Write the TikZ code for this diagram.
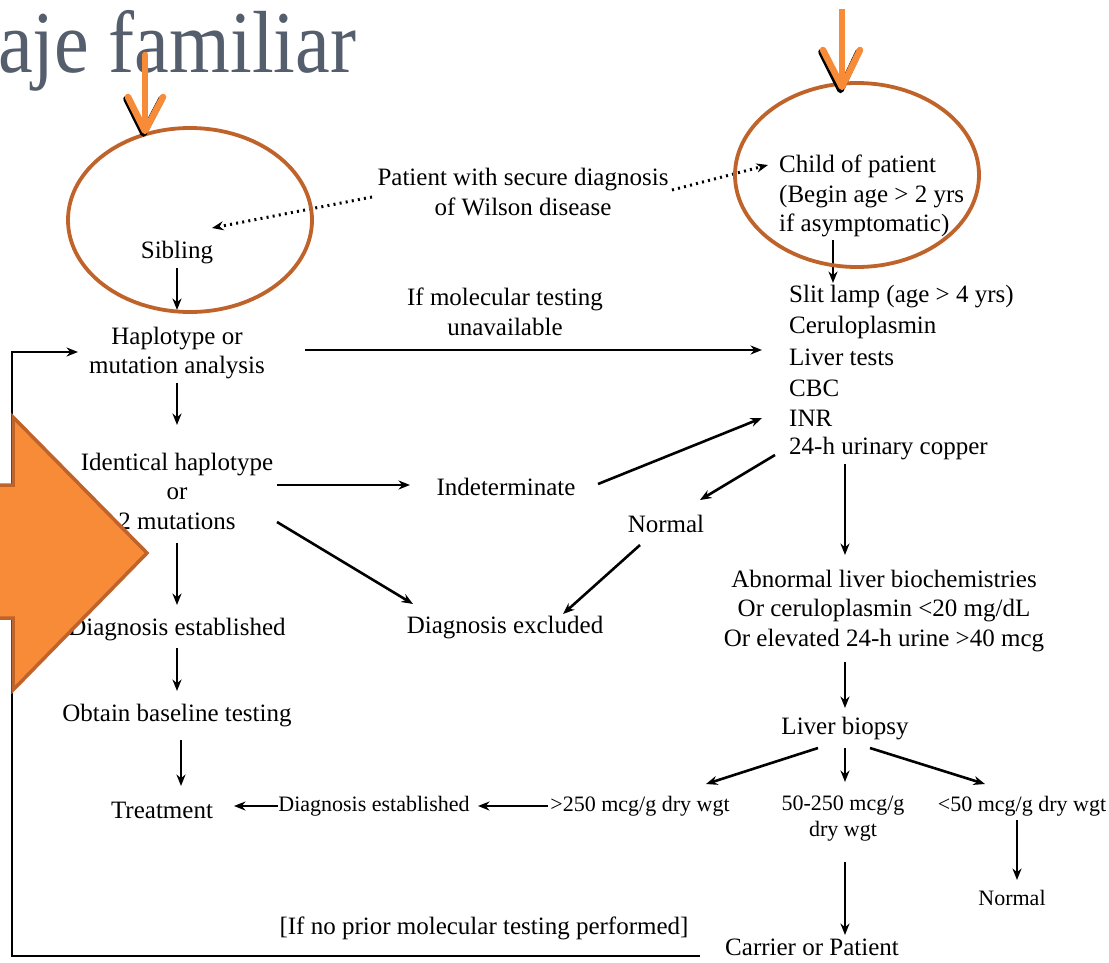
\documentclass[tikz,border=0pt]{standalone}
\usepackage{fontspec}
\setmainfont{Liberation Serif}
\usetikzlibrary{arrows.meta,calc}
\definecolor{titlegray}{HTML}{555E6C}
\definecolor{orng}{HTML}{F78B38}
\definecolor{brwn}{HTML}{C0632B}
\newcommand\fs{\fontsize{25}{29.5}\selectfont}
\newcommand\fsm{\fontsize{22}{26}\selectfont}
\begin{document}
\begin{tikzpicture}[x=1pt,y=-1pt,
  txt/.style={font=\fs, align=center, inner sep=0pt},
  sm/.style={font=\fsm, align=center, inner sep=0pt},
  lst/.style={font=\fs, anchor=west, inner sep=0pt},
  arr/.style={-{Stealth[length=11.5pt,width=9pt]}, line width=2.6pt},
  dot/.style={arr, line width=3pt, dash pattern=on 2pt off 4.2pt},
  ell/.style={draw=brwn, line width=3.8pt},
  small arrow/.style={line width=6.5pt, line cap=round, line join=round}]
\useasboundingbox (0,0) rectangle (1109,962);
\fill[white] (0,0) rectangle (1109,962);
\clip (0,0) rectangle (1109,962);

% title
\node[anchor=base west, inner sep=0, text=titlegray, font=\fontsize{84}{84}\selectfont] (title) at (-2,72) {\scalebox{0.93}[1.05]{aje familiar}};

% nodes
\node[txt] (patient) at (523,192) {Patient with secure diagnosis\\of Wilson disease};
\node[txt] (sib) at (177,253) {Sibling};
\node[txt, anchor=west, align=left] (child) at (779,196) {Child of patient\\(Begin age > 2 yrs\\if asymptomatic)};
\node[txt] (hap) at (177,353) {Haplotype or\\mutation analysis};
\node[txt] (ifmol) at (505,312) {If molecular testing\\unavailable};
\node[lst] (slit) at (789,297) {Slit lamp (age > 4 yrs)};
\node[lst] (cer) at (789,327) {Ceruloplasmin};
\node[lst] (liv) at (789,357) {Liver tests};
\node[lst] (cbc) at (789,388) {CBC};
\node[lst] (inr) at (789,418) {INR};
\node[lst] (urine) at (789,449) {24-h urinary copper};
\node[txt] (ident) at (177,491) {Identical haplotype\\or\\2 mutations};
\node[txt] (indet) at (506,487) {Indeterminate};
\node[txt] (normal) at (666,524) {Normal};
\node[txt] (dxexc) at (505,628) {Diagnosis excluded};
\node[txt] (dxest) at (177,630) {Diagnosis established};
\node[txt] (base) at (177,716) {Obtain baseline testing};
\node[txt] (treat) at (162,810) {Treatment};
\node[sm] (dx2) at (374,806) {Diagnosis established};
\node[sm] (gt250) at (640,806) {>250 mcg/g dry wgt};
\node[sm] (mid) at (843,819) {50-250 mcg/g\\dry wgt};
\node[sm] (lt50) at (1022,806) {<50 mcg/g dry wgt};
\node[sm] (norm2) at (1012,898) {Normal};
\node[txt] (abn) at (884,611) {Abnormal liver biochemistries\\Or ceruloplasmin <20 mg/dL\\Or elevated 24-h urine >40 mcg};
\node[txt] (biopsy) at (845,729) {Liver biopsy};
\node[txt] (ifno) at (484,928) {[If no prior molecular testing performed]};
\node[txt] (carrier) at (812,947) {Carrier or Patient};
\coordinate (loopc) at (12,956);

% connectors
\draw[dot] ([shift={(-151pt,-5pt)}]patient.center) -- ([shift={(35pt,25pt)}]sib.center);
\draw[dot] ([shift={(149pt,2pt)}]patient.center) -- ([shift={(-11pt,31pt)}]child.west);
\draw[arr] ([yshift=-15pt]sib.center) -- ([yshift=43pt]hap.center);
\draw[arr] ([shift={(54pt,-44pt)}]child.west) -- ([shift={(44pt,14pt)}]slit.west);
\draw[arr] ([shift={(128pt,3pt)}]hap.center) -- ([shift={(-27pt,7pt)}]liv.west);
\draw[arr] ([yshift=-30pt]hap.center) -- ([yshift=66pt]ident.center);
\draw[arr] ([shift={(100pt,6pt)}]ident.center) -- ([shift={(-96pt,2pt)}]indet.center);
\draw[arr] ([shift={(100pt,-31pt)}]ident.center) -- ([shift={(-92pt,24pt)}]dxexc.center);
\draw[arr] ([shift={(92pt,3pt)}]indet.center) -- ([shift={(-27pt,0pt)}]inr.west);
\draw[arr] ([shift={(-14pt,-6pt)}]urine.west) -- ([shift={(34pt,24pt)}]normal.center);
\draw[arr] ([shift={(-26pt,-21pt)}]normal.center) -- ([shift={(58pt,14pt)}]dxexc.center);
\draw[arr] ([yshift=-52pt]ident.center) -- ([yshift=25pt]dxest.center);
\draw[arr] ([yshift=-18pt]dxest.center) -- ([yshift=25pt]base.center);
\draw[arr] ([shift={(4pt,-24pt)}]base.center) -- ([shift={(19pt,24pt)}]treat.center);
\draw[arr] ([shift={(56pt,-15pt)}]urine.west) -- ([shift={(-39pt,56pt)}]abn.center);
\draw[arr] ([shift={(-39pt,-51pt)}]abn.center) -- ([yshift=21pt]biopsy.center);
\draw[arr] ([shift={(-27pt,-19pt)}]biopsy.center) -- ([shift={(66pt,22pt)}]gt250.center);
\draw[arr] ([yshift=-19pt]biopsy.center) -- ([shift={(2pt,37pt)}]mid.center);
\draw[arr] ([shift={(25pt,-19pt)}]biopsy.center) -- ([shift={(-37pt,22pt)}]lt50.center);
\draw[arr] ([xshift=-92pt]gt250.center) -- ([xshift=104pt]dx2.center);
\draw[arr] ([xshift=-96pt]dx2.center) -- ([shift={(72pt,4pt)}]treat.center);
\draw[arr] ([shift={(-5pt,-14pt)}]lt50.center) -- ([shift={(5pt,18pt)}]norm2.center);
\draw[arr] ([shift={(2pt,-43pt)}]mid.center) -- ([shift={(33pt,12pt)}]carrier.center);
\draw[arr, line width=2.8pt] ([shift={(-112pt,-9pt)}]carrier.center) -- (loopc) |- ([shift={(-99pt,1pt)}]hap.center);

% overlays: ellipses
\draw[ell] (190,220) ellipse [x radius=122, y radius=92];
\draw[ell] (857,175) ellipse [x radius=122, y radius=92];

% small orange arrows with dark shadow
\draw[small arrow, black] (126.5,99) -- (143.5,133.5) -- (161.5,99);
\draw[small arrow, orng] (145,55) -- (145,128);
\draw[small arrow, orng] (128,97) -- (145,131) -- (163,97);
\draw[small arrow, black] (821.5,52) -- (840.5,90) -- (858.5,52);
\draw[small arrow, orng, line cap=butt] (842,9) -- (842,84);
\draw[small arrow, orng] (823,50) -- (842,87) -- (860,50);

% big orange block arrow
\draw[fill=orng, draw=brwn, line width=3.5pt, line join=miter]
  (-10,485) -- (13,485) -- (13,417) -- (147,553) -- (13,690) -- (13,618) -- (-10,618) -- cycle;
\end{tikzpicture}
\end{document}
